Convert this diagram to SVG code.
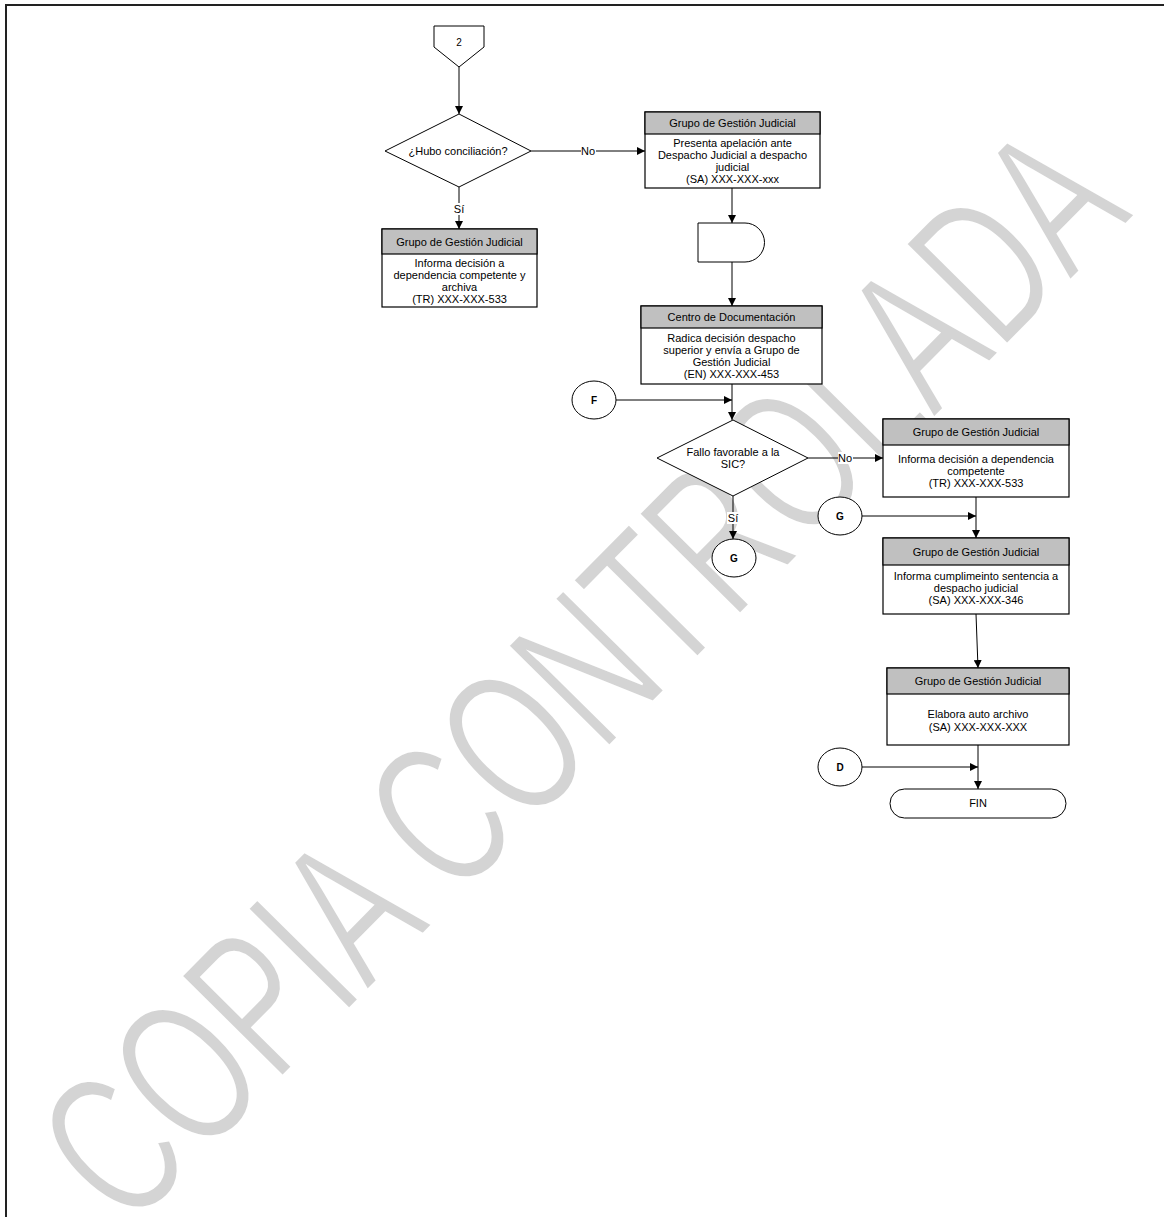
<svg xmlns="http://www.w3.org/2000/svg" width="1164" height="1217" viewBox="0 0 1164 1217">
<style>
.t{font-family:"Liberation Sans",Arial,sans-serif;font-size:11px;fill:#000;text-anchor:middle}
.b{font-weight:bold;font-size:10px}
.box{fill:#fff;stroke:#000;stroke-width:1.2}
.hdr{fill:#c0c0c0;stroke:#000;stroke-width:1.2}
.sh{fill:#fff;stroke:#000;stroke-width:1}
.ln{fill:none;stroke:#000;stroke-width:1}
.arr{marker-end:url(#ah)}
.lbl{fill:#fff}
.wm{font-family:"Liberation Sans",Arial,sans-serif;font-size:208px;fill:#d4d4d4;stroke:#fff;stroke-width:3}
</style>
<defs>
<marker id="ah" markerWidth="8" markerHeight="8" refX="8" refY="4" orient="auto" markerUnits="userSpaceOnUse">
<path d="M0,0 L8,4 L0,8 Z" fill="#000"/>
</marker>
</defs>
<rect x="0" y="0" width="1164" height="1217" fill="#fff"/>
<g id="border">
<line x1="5" y1="5" x2="1164" y2="5" stroke="#222" stroke-width="2"/>
<line x1="6" y1="5" x2="6" y2="1217" stroke="#222" stroke-width="2"/>
</g>
<g id="watermark">
<text class="wm" transform="translate(128,1233) rotate(-45.3) scale(0.67,1)">COPIA CONTROLADA</text>
</g>
<g id="connectors">
<line class="ln arr" x1="459" y1="67" x2="459" y2="114"/>
<line class="ln arr" x1="531" y1="151" x2="645" y2="151"/>
<line class="ln arr" x1="459" y1="187" x2="459" y2="229"/>
<line class="ln arr" x1="732" y1="188" x2="732" y2="223"/>
<line class="ln arr" x1="732" y1="262" x2="732" y2="306"/>
<line class="ln arr" x1="732" y1="384" x2="732" y2="420"/>
<line class="ln arr" x1="616" y1="400" x2="732" y2="400"/>
<line class="ln arr" x1="808" y1="458" x2="883" y2="458"/>
<line class="ln arr" x1="733" y1="496" x2="733" y2="539"/>
<line class="ln arr" x1="862" y1="516" x2="976" y2="516"/>
<line class="ln arr" x1="976" y1="497" x2="976" y2="538"/>
<line class="ln arr" x1="976" y1="614" x2="978" y2="668"/>
<line class="ln arr" x1="862" y1="767" x2="978" y2="767"/>
<line class="ln arr" x1="978" y1="745" x2="978" y2="789"/>
<rect class="lbl" x="581" y="145" width="15" height="12"/>
<text class="t" x="588" y="155">No</text>
<rect class="lbl" x="453" y="203" width="12" height="12"/>
<text class="t" x="459" y="213">Sí</text>
<rect class="lbl" x="838" y="452" width="15" height="12"/>
<text class="t" x="845" y="462">No</text>
<rect class="lbl" x="727" y="512" width="12" height="12"/>
<text class="t" x="733" y="522">Sí</text>
</g>
<g id="offpage2">
<path class="sh" d="M434,26 H484 V47 L459,67 L434,47 Z"/>
<text class="t" x="459" y="46" style="font-size:10px">2</text>
</g>
<g id="dec1">
<path class="sh" d="M385,151 L459,114 L531,151 L459,187 Z"/>
<text class="t" x="458" y="155">¿Hubo conciliación?</text>
</g>
<g id="box-left">
<rect class="box" x="382" y="229" width="155" height="78"/>
<rect class="hdr" x="382" y="229" width="155" height="25"/>
<text class="t" x="459.5" y="245.5">Grupo de Gestión Judicial</text>
<text class="t" x="459.5" y="266.5">Informa decisión a</text>
<text class="t" x="459.5" y="278.5">dependencia competente y</text>
<text class="t" x="459.5" y="290.5">archiva</text>
<text class="t" x="459.5" y="302.5">(TR) XXX-XXX-533</text>
</g>
<g id="box-presenta">
<rect class="box" x="645" y="112" width="175" height="76"/>
<rect class="hdr" x="645" y="112" width="175" height="22"/>
<text class="t" x="732.5" y="127">Grupo de Gestión Judicial</text>
<text class="t" x="732.5" y="147">Presenta apelación ante</text>
<text class="t" x="732.5" y="159">Despacho Judicial a despacho</text>
<text class="t" x="732.5" y="171">judicial</text>
<text class="t" x="732.5" y="183">(SA) XXX-XXX-xxx</text>
</g>
<g id="delay">
<path class="sh" d="M698,223 H745 A19.5,19.5 0 0 1 745,262 H698 Z"/>
</g>
<g id="box-centro">
<rect class="box" x="641" y="306" width="181" height="78"/>
<rect class="hdr" x="641" y="306" width="181" height="22"/>
<text class="t" x="731.5" y="321">Centro de Documentación</text>
<text class="t" x="731.5" y="342">Radica decisión despacho</text>
<text class="t" x="731.5" y="354">superior y envía a Grupo de</text>
<text class="t" x="731.5" y="366">Gestión Judicial</text>
<text class="t" x="731.5" y="378">(EN) XXX-XXX-453</text>
</g>
<g id="conn-F">
<ellipse class="sh" cx="594" cy="400" rx="22" ry="19"/>
<text class="t b" x="594" y="404">F</text>
</g>
<g id="dec2">
<path class="sh" d="M657,458 L733,420 L808,458 L733,496 Z"/>
<text class="t" x="733" y="456">Fallo favorable a la</text>
<text class="t" x="733" y="468">SIC?</text>
</g>
<g id="conn-G1">
<ellipse class="sh" cx="734" cy="558" rx="22" ry="19"/>
<text class="t b" x="734" y="562">G</text>
</g>
<g id="box-informa">
<rect class="box" x="883" y="419" width="186" height="78"/>
<rect class="hdr" x="883" y="419" width="186" height="26"/>
<text class="t" x="976" y="436">Grupo de Gestión Judicial</text>
<text class="t" x="976" y="463">Informa decisión a dependencia</text>
<text class="t" x="976" y="475">competente</text>
<text class="t" x="976" y="487">(TR) XXX-XXX-533</text>
</g>
<g id="conn-G2">
<ellipse class="sh" cx="840" cy="516" rx="22" ry="19"/>
<text class="t b" x="840" y="520">G</text>
</g>
<g id="box-cumple">
<rect class="box" x="883" y="538" width="186" height="76"/>
<rect class="hdr" x="883" y="538" width="186" height="27"/>
<text class="t" x="976" y="555.5">Grupo de Gestión Judicial</text>
<text class="t" x="976" y="580">Informa cumplimeinto sentencia a</text>
<text class="t" x="976" y="592">despacho judicial</text>
<text class="t" x="976" y="604">(SA) XXX-XXX-346</text>
</g>
<g id="box-elabora">
<rect class="box" x="887" y="668" width="182" height="77"/>
<rect class="hdr" x="887" y="668" width="182" height="26"/>
<text class="t" x="978" y="685">Grupo de Gestión Judicial</text>
<text class="t" x="978" y="718">Elabora auto archivo</text>
<text class="t" x="978" y="731">(SA) XXX-XXX-XXX</text>
</g>
<g id="conn-D">
<ellipse class="sh" cx="840" cy="767" rx="22" ry="19"/>
<text class="t b" x="840" y="771">D</text>
</g>
<g id="fin">
<rect class="sh" x="890" y="789" width="176" height="29" rx="14.5" ry="14.5"/>
<text class="t" x="978" y="807">FIN</text>
</g>
</svg>
